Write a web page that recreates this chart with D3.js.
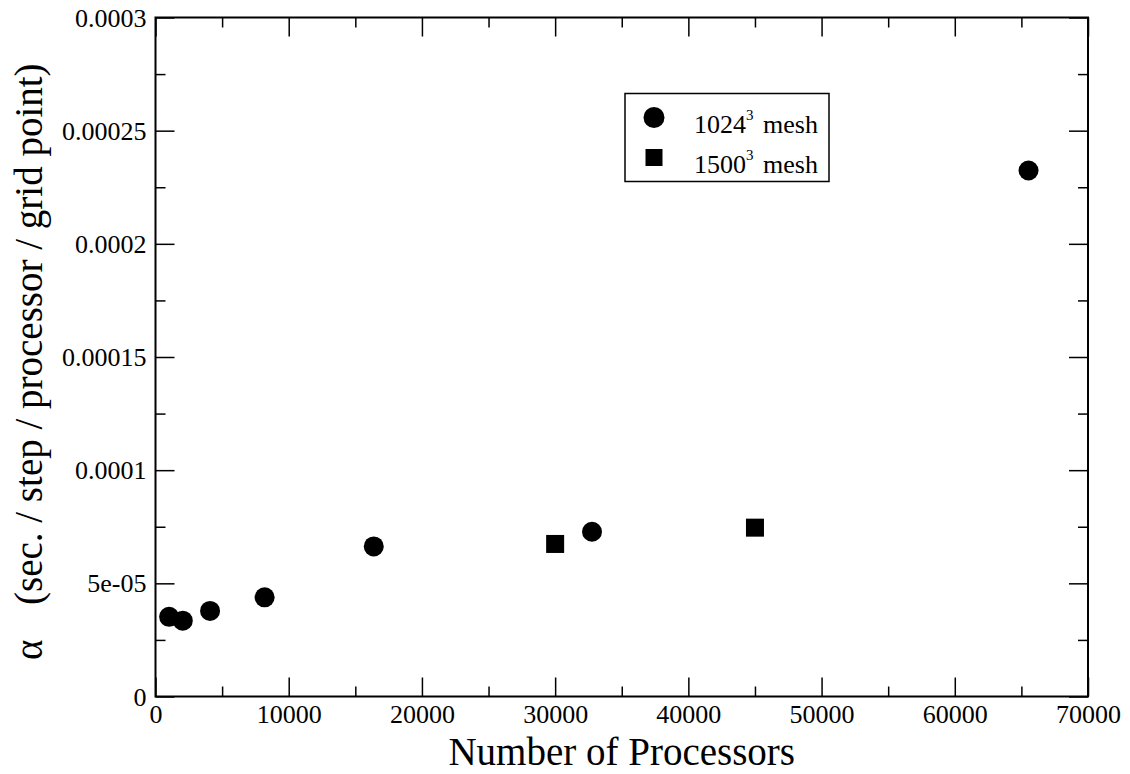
<!DOCTYPE html>
<html>
<head>
<meta charset="utf-8">
<script src="https://cdnjs.cloudflare.com/ajax/libs/d3/7.8.5/d3.min.js"></script>
<style>
  body { margin: 0; background: #fff; }
  svg text { font-family: "Liberation Serif", "Times New Roman", serif; fill: #000; }
</style>
</head>
<body>
<div id="chart"></div>
<script>
// --- data ---
var procs1024 = [1024, 2048, 4096, 8192, 16384, 32768, 65536];
var alpha1024 = [3.52e-5, 3.35e-5, 3.78e-5, 4.38e-5, 6.63e-5, 7.28e-5, 2.324e-4];
var procs1500 = [30000, 45000];
var alpha1500 = [6.74e-5, 7.46e-5];

var xMajor = [0, 10000, 20000, 30000, 40000, 50000, 60000, 70000];
var xMinor = [5000, 15000, 25000, 35000, 45000, 55000, 65000];
var yMajor = [0, 5e-5, 1e-4, 1.5e-4, 2e-4, 2.5e-4, 3e-4];
var yMinor = [2.5e-5, 7.5e-5, 1.25e-4, 1.75e-4, 2.25e-4, 2.75e-4];
var yLabels = ["0", "5e-05", "0.0001", "0.00015", "0.0002", "0.00025", "0.0003"];

var legendNames = ["1024", "1500"];

// --- layout ---
var W = 1130, H = 774;
var m = {left: 155.5, right: 42, top: 17.5, bottom: 77.5};
var iw = W - m.left - m.right, ih = H - m.top - m.bottom;

var svg = d3.select("#chart").append("svg")
    .attr("width", W).attr("height", H);

var g = svg.append("g").attr("transform", "translate(" + m.left + "," + m.top + ")");

var x = d3.scaleLinear().domain([0, 70000]).range([0, iw]);
var y = d3.scaleLinear().domain([0, 3e-4]).range([ih, 0]);

function styleAxis(sel) {
  sel.attr("font-family", null);
  sel.select(".domain").remove();
  sel.selectAll(".tick line").attr("stroke", "#000").attr("stroke-width", 1.5);
}

// major + minor ticks on all four sides, pointing inward
var MAJ = 19, MIN = 10;

g.append("g").attr("transform", "translate(0," + ih + ")")
  .call(d3.axisBottom(x).tickValues(xMajor).tickSize(-MAJ).tickPadding(0)
        .tickFormat(d3.format("d")))
  .call(styleAxis)
  .call(function (s) {
    s.selectAll(".tick text").attr("font-size", 26).attr("y", 26.5).attr("dy", 0);
  });
g.append("g").attr("transform", "translate(0," + ih + ")")
  .call(d3.axisBottom(x).tickValues(xMinor).tickSize(-MIN).tickFormat(""))
  .call(styleAxis);

g.append("g")
  .call(d3.axisTop(x).tickValues(xMajor).tickSize(-MAJ).tickFormat(""))
  .call(styleAxis);
g.append("g")
  .call(d3.axisTop(x).tickValues(xMinor).tickSize(-MIN).tickFormat(""))
  .call(styleAxis);

g.append("g")
  .call(d3.axisLeft(y).tickValues(yMajor).tickSize(-MAJ).tickPadding(0)
        .tickFormat(function (d, i) { return yLabels[i]; }))
  .call(styleAxis)
  .call(function (s) {
    s.selectAll(".tick text").attr("font-size", 26).attr("x", -9).attr("dy", "0.33em");
  });
g.append("g")
  .call(d3.axisLeft(y).tickValues(yMinor).tickSize(-MIN).tickFormat(""))
  .call(styleAxis);

g.append("g").attr("transform", "translate(" + iw + ",0)")
  .call(d3.axisRight(y).tickValues(yMajor).tickSize(-MAJ).tickFormat(""))
  .call(styleAxis);
g.append("g").attr("transform", "translate(" + iw + ",0)")
  .call(d3.axisRight(y).tickValues(yMinor).tickSize(-MIN).tickFormat(""))
  .call(styleAxis);

// frame
g.append("rect").attr("width", iw).attr("height", ih)
  .attr("fill", "none").attr("stroke", "#000").attr("stroke-width", 2);

// markers
var pts1024 = procs1024.map(function (p, i) { return [p, alpha1024[i]]; });
var pts1500 = procs1500.map(function (p, i) { return [p, alpha1500[i]]; });

g.selectAll("circle.m1024").data(pts1024).enter().append("circle")
  .attr("class", "m1024")
  .attr("cx", function (d) { return x(d[0]); })
  .attr("cy", function (d) { return y(d[1]); })
  .attr("r", 10).attr("fill", "#000");

var SQ = 18;
g.selectAll("rect.m1500").data(pts1500).enter().append("rect")
  .attr("class", "m1500")
  .attr("x", function (d) { return x(d[0]) - SQ / 2; })
  .attr("y", function (d) { return y(d[1]) - SQ / 2; })
  .attr("width", SQ).attr("height", SQ).attr("fill", "#000");

// axis titles
svg.append("text")
  .attr("x", m.left + iw / 2).attr("y", 765)
  .attr("text-anchor", "middle").attr("font-size", 39)
  .text("Number of Processors");

svg.append("text")
  .attr("transform", "translate(42,660) rotate(-90)")
  .attr("font-size", 39)
  .text("\u03b1");
svg.append("text")
  .attr("transform", "translate(42,605) rotate(-90)")
  .attr("font-size", 39)
  .text("(sec. / step / processor / grid point)");

// legend
var lg = svg.append("g").attr("transform", "translate(625,93.5)");
lg.append("rect").attr("width", 204).attr("height", 88)
  .attr("fill", "#fff").attr("stroke", "#000").attr("stroke-width", 1.5);

var rows = lg.selectAll("g.row").data(legendNames).enter().append("g")
  .attr("class", "row")
  .attr("transform", function (d, i) { return "translate(0," + (24 + i * 40) + ")"; });

rows.each(function (d, i) {
  var r = d3.select(this);
  if (i === 0) {
    r.append("circle").attr("cx", 29).attr("cy", 0).attr("r", 10.5).attr("fill", "#000");
  } else {
    r.append("rect").attr("x", 20.5).attr("y", -8.5).attr("width", 17).attr("height", 17).attr("fill", "#000");
  }
  var t = r.append("text").attr("x", 69).attr("y", 15).attr("font-size", 26);
  t.append("tspan").text(d);
  t.append("tspan").attr("font-size", 15).attr("dy", -13).text("3");
  t.append("tspan").attr("x", 138).attr("dy", 13).text("mesh");
});
</script>
</body>
</html>
